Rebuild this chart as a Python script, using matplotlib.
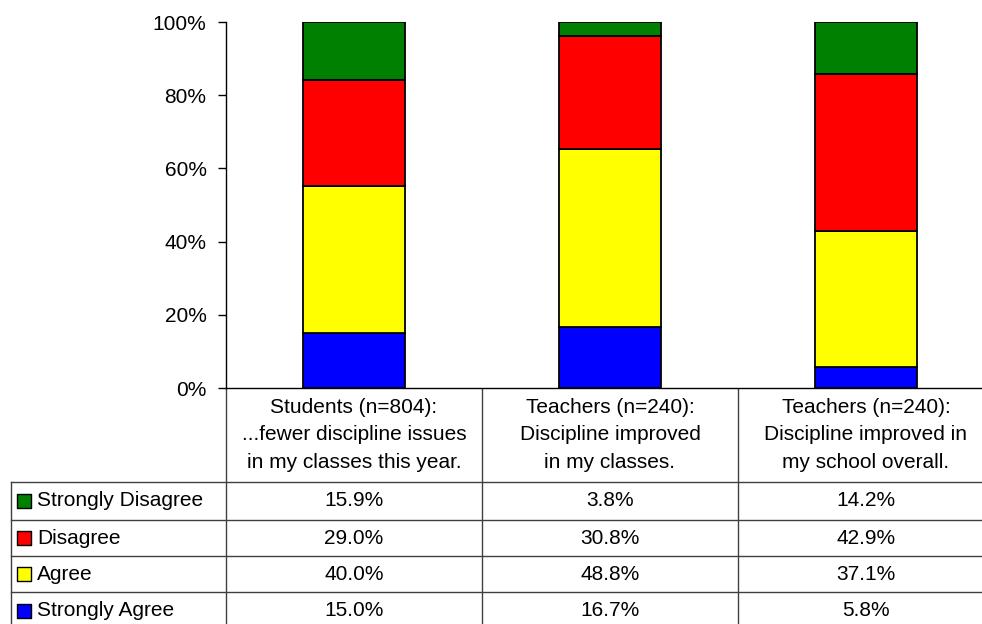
import numpy as np
import matplotlib
matplotlib.use("Agg")
import matplotlib.pyplot as plt
import matplotlib.transforms as mtransforms
from matplotlib.ticker import FuncFormatter

plt.rcParams['font.family'] = ['Liberation Sans', 'DejaVu Sans']

# ---- data ----
categories = [
    "Students (n=804):\n...fewer discipline issues\nin my classes this year.",
    "Teachers (n=240):\nDiscipline improved\nin my classes.",
    "Teachers (n=240):\nDiscipline improved in\nmy school overall.",
]
series_names = ["Strongly Disagree", "Disagree", "Agree", "Strongly Agree"]
strongly_disagree = [15.9, 3.8, 14.2]
disagree = [29.0, 30.8, 42.9]
agree = [40.0, 48.8, 37.1]
strongly_agree = [15.0, 16.7, 5.8]
colors = {"Strongly Disagree": "#008000", "Disagree": "#FF0000",
          "Agree": "#FFFF00", "Strongly Agree": "#0000FF"}
yticks = [0, 0.2, 0.4, 0.6, 0.8, 1.0]

values = {"Strongly Disagree": strongly_disagree, "Disagree": disagree,
          "Agree": agree, "Strongly Agree": strongly_agree}

W, H = 982, 624
fig = plt.figure(figsize=(W / 100, H / 100), dpi=100)
FS = 15

ax = fig.add_axes([226 / W, (H - 388) / H, 768 / W, 366 / H])
x = np.arange(len(categories))
totals = np.sum([values[n] for n in series_names], axis=0)
bottom = np.zeros(len(categories))
for name in reversed(series_names):
    v = np.array(values[name]) / totals
    ax.bar(x, v, width=0.4, bottom=bottom, color=colors[name],
           edgecolor='black', linewidth=1.3, zorder=3)
    bottom += v

ax.set_xlim(-0.5, len(categories) - 0.5)
ax.set_ylim(0, 1)
ax.set_yticks(yticks)
ax.yaxis.set_major_formatter(FuncFormatter(lambda v, p: f"{v * 100:.0f}%"))
ax.tick_params(axis='y', length=6, width=1, pad=8, labelsize=FS, colors='black')
ax.set_xticks([])
for s in ['top', 'right']:
    ax.spines[s].set_visible(False)
for s in ['left', 'bottom']:
    ax.spines[s].set_linewidth(1.0)
    ax.spines[s].set_color('black')

# ---- data table ----
tab = fig.add_axes([0, 0, 1, 1], zorder=-1)
tab.set_xlim(0, W)
tab.set_ylim(H, 0)
tab.axis('off')
blend = mtransforms.blended_transform_factory(ax.transData, tab.transData)

lc = '#404040'
header_top, header_bot = 388, 482
row_edges = [482, 520, 556, 592, 630]
left_px = 11

# vertical column boundaries
for b in np.arange(len(categories) + 1) - 0.5:
    tab.plot([b, b], [header_top, H + 10], transform=blend, color=lc, lw=1, clip_on=False)
tab.plot([left_px, left_px], [header_bot, H + 10], color=lc, lw=1)
# horizontal row boundaries
for y in row_edges[:-1]:
    tab.plot([left_px, W], [y, y], color=lc, lw=1)

# header labels
for i, cat in enumerate(categories):
    tab.text(i, (header_top + header_bot) / 2, cat, transform=blend,
             ha='center', va='center', fontsize=FS, linespacing=1.55)

# rows
for r, name in enumerate(series_names):
    yc = (row_edges[r] + row_edges[r + 1]) / 2
    tab.scatter([24], [yc], marker='s', s=90, color=colors[name],
                edgecolor='black', linewidth=1, zorder=3)
    tab.text(37, yc, name, ha='left', va='center', fontsize=FS)
    for i, v in enumerate(values[name]):
        tab.text(i, yc, f"{v:.1f}%", transform=blend, ha='center',
                 va='center', fontsize=FS)

fig.savefig("out.png", dpi=100)
